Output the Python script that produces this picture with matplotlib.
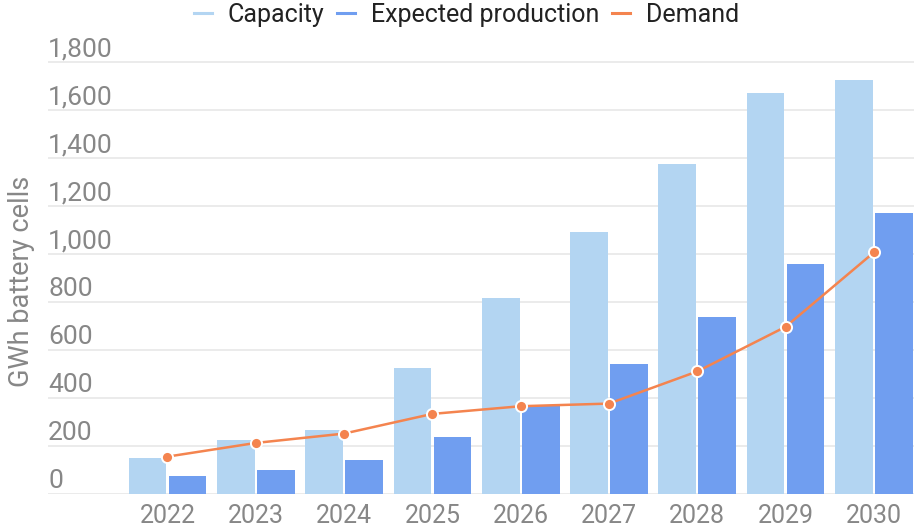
import numpy as np
import matplotlib
matplotlib.use("Agg")
import matplotlib.pyplot as plt
import matplotlib.transforms as mtrans
from matplotlib.lines import Line2D

plt.rcParams['font.family'] = ['Roboto', 'DejaVu Sans']

years = ['2022', '2023', '2024', '2025', '2026', '2027', '2028', '2029', '2030']
capacity = [152, 226, 268, 526, 817, 1094, 1375, 1673, 1725]
production = [75, 101, 144, 239, 367, 541, 740, 961, 1172]
demand = [157, 214, 253, 335, 367, 378, 512, 698, 1008]
yticks = [0, 200, 400, 600, 800, 1000, 1200, 1400, 1600, 1800]

c_cap = '#b3d5f2'
c_prod = '#709ef0'
c_dem = '#f4844f'
c_txt = '#878787'

fig = plt.figure(figsize=(9.14, 5.27), dpi=100)
ax = fig.add_axes([48/914, 32.7/527, 866/914, 444/527])

x = np.arange(len(years))
w = 0.427
off = 0.2265
ax.bar(x - off, capacity, w, color=c_cap, zorder=2)
ax.bar(x + off, production, w, color=c_prod, zorder=2)
ax.plot(x, demand, color=c_dem, lw=1.8, marker='o', ms=8,
        mfc=c_dem, mec='white', mew=1.4, zorder=4, clip_on=False)

ax.set_xlim(-1.353, 8.454)
ax.set_ylim(0, 1850)
for s in ax.spines.values():
    s.set_visible(False)
ax.set_xticks([])
ax.set_yticks([])

# gridlines + labels sitting above them
ylab_tr = mtrans.offset_copy(mtrans.blended_transform_factory(ax.transAxes, ax.transData),
                             fig=fig, x=0, y=4.3, units='points')
for v in yticks:
    ax.axhline(v, color='#e6e6e6', lw=1.1, zorder=1)
    ax.text(0, v, f'{v:,}', transform=ylab_tr, ha='left', va='baseline',
            fontsize=19, color=c_txt)

xlab_tr = mtrans.offset_copy(mtrans.blended_transform_factory(ax.transData, ax.transAxes),
                             fig=fig, x=0, y=-20.9, units='points')
for xi, yr in zip(x, years):
    ax.text(xi, 0, yr, transform=xlab_tr, ha='center', va='baseline',
            fontsize=18, color=c_txt)

fig.text(22/914, 1 - 281/527, 'GWh battery cells', rotation=90, ha='center',
         va='center', fontsize=19.5, color=c_txt)

handles = [Line2D([], [], color=c_cap, lw=2.2),
           Line2D([], [], color=c_prod, lw=2.2),
           Line2D([], [], color=c_dem, lw=2.2)]
fig.legend(handles, ['Capacity', 'Expected production', 'Demand'], ncol=3,
           loc='center', bbox_to_anchor=(466.5/914, 1 - 15/527), frameon=False,
           fontsize=18, handlelength=0.72, handletextpad=0.64, columnspacing=0.5,
           borderpad=0, labelcolor='#222222')

fig.savefig('out.png', dpi=100)
